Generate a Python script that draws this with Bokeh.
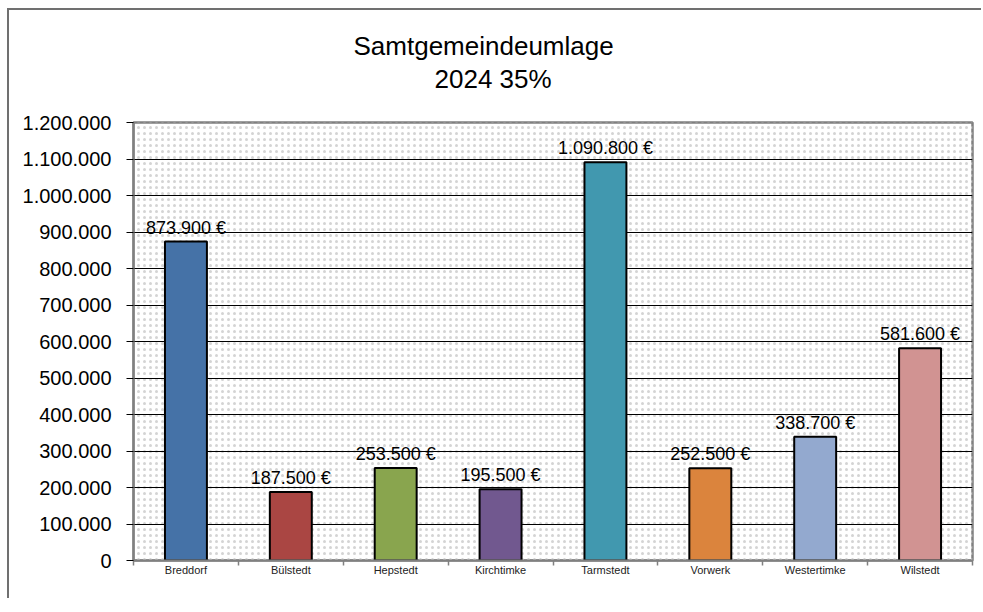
from bokeh.plotting import figure
from bokeh.models import (FixedTicker, Range1d, ColumnDataSource, Title, BoxAnnotation)
from bokeh.embed import file_html
from bokeh.resources import INLINE
from bokeh.core.properties import value

# ---- data ----
categories = ["Breddorf", "Bülstedt", "Hepstedt", "Kirchtimke",
              "Tarmstedt", "Vorwerk", "Westertimke", "Wilstedt"]
amounts = [873900, 187500, 253500, 195500, 1090800, 252500, 338700, 581600]
colors = ["#4572A7", "#AA4643", "#89A54E", "#71588F",
          "#4198AF", "#DB843D", "#93A9CF", "#D19392"]
y_ticks = [0, 100000, 200000, 300000, 400000, 500000, 600000,
           700000, 800000, 900000, 1000000, 1100000, 1200000]
y_tick_labels = ["0", "100.000", "200.000", "300.000", "400.000", "500.000",
                 "600.000", "700.000", "800.000", "900.000", "1.000.000",
                 "1.100.000", "1.200.000"]
title_line1 = "Samtgemeindeumlage"
title_line2 = "2024 35%"

FONT = "Liberation Sans"

n = len(categories)
centers = [i + 0.5 for i in range(n)]
labels = [f"{v:,}".replace(",", ".") + " €" for v in amounts]

src = ColumnDataSource(dict(x=centers, top=amounts, color=colors, label=labels))

p = figure(width=974, height=590, output_backend="svg", toolbar_location=None,
           x_range=Range1d(0, n), y_range=Range1d(0, 1200000),
           min_border_left=124, min_border_right=11,
           min_border_top=112, min_border_bottom=40)
p.title.visible = False
p.background_fill_color = "white"
p.border_fill_color = "white"
p.outline_line_color = "#808080"
p.outline_line_width = 2.5
p.styles = {"margin-left": "7px", "margin-top": "8px",
            "border-left": "2px solid #707070", "border-top": "2px solid #707070"}

# titles: an empty spacer panel next to the frame, then the two lines
spacer = Title(text=" ", text_font=FONT, text_font_size="24px", standoff=0)
p.add_layout(spacer, "above")
t2 = Title(text=title_line2, align="left", offset=301, text_font=FONT,
           text_font_size="26px", text_font_style="normal", text_color="black",
           standoff=0)
p.add_layout(t2, "above")
t1 = Title(text=title_line1, align="left", offset=220, text_font=FONT,
           text_font_size="26px", text_font_style="normal", text_color="black",
           standoff=2)
p.add_layout(t1, "above")

# dotted background (below the grid lines)
bg = BoxAnnotation(fill_alpha=0, line_alpha=0, hatch_pattern="dot",
                   hatch_color="#d4d4d4", hatch_scale=6, hatch_weight=1,
                   level="image")
p.add_layout(bg)

# grid
p.xgrid.visible = False
p.ygrid.ticker = FixedTicker(ticks=y_ticks)
p.ygrid.grid_line_color = "black"
p.ygrid.grid_line_width = 1
p.ygrid.level = "underlay"

# y axis
p.yaxis.ticker = FixedTicker(ticks=y_ticks)
p.yaxis.major_label_overrides = {t: l for t, l in zip(y_ticks, y_tick_labels)}
p.yaxis.major_label_text_font = FONT
p.yaxis.major_label_text_font_size = "20px"
p.yaxis.major_label_text_color = "black"
p.yaxis.major_tick_out = 7
p.yaxis.major_tick_in = 0
p.yaxis.major_tick_line_color = "black"
p.yaxis.minor_tick_line_color = None
p.yaxis.axis_line_color = "#808080"
p.yaxis.axis_line_width = 2
p.yaxis.major_label_standoff = 15

# x axis
p.xaxis.ticker = FixedTicker(ticks=centers, minor_ticks=list(range(n + 1)))
p.xaxis.major_label_overrides = {c: name for c, name in zip(centers, categories)}
p.xaxis.major_label_text_font = FONT
p.xaxis.major_label_text_font_size = "11px"
p.xaxis.major_label_text_color = "#222222"
p.xaxis.major_tick_line_color = None
p.xaxis.major_tick_out = 0
p.xaxis.major_tick_in = 0
p.xaxis.minor_tick_out = 5
p.xaxis.minor_tick_in = 0
p.xaxis.minor_tick_line_color = "#808080"
p.xaxis.minor_tick_line_width = 1.5
p.xaxis.axis_line_color = "#808080"
p.xaxis.axis_line_width = 2
p.xaxis.major_label_standoff = -2

# bars
p.vbar(x="x", top="top", width=0.4, bottom=0, source=src,
       fill_color="color", line_color="black", line_width=2)

# value labels
p.text(x="x", y="top", text="label", source=src, text_align="center",
       text_baseline="alphabetic", y_offset=-14, text_font=value(FONT),
       text_font_size="18px", text_color="black")

open("out.html", "w").write(file_html(p, INLINE))
